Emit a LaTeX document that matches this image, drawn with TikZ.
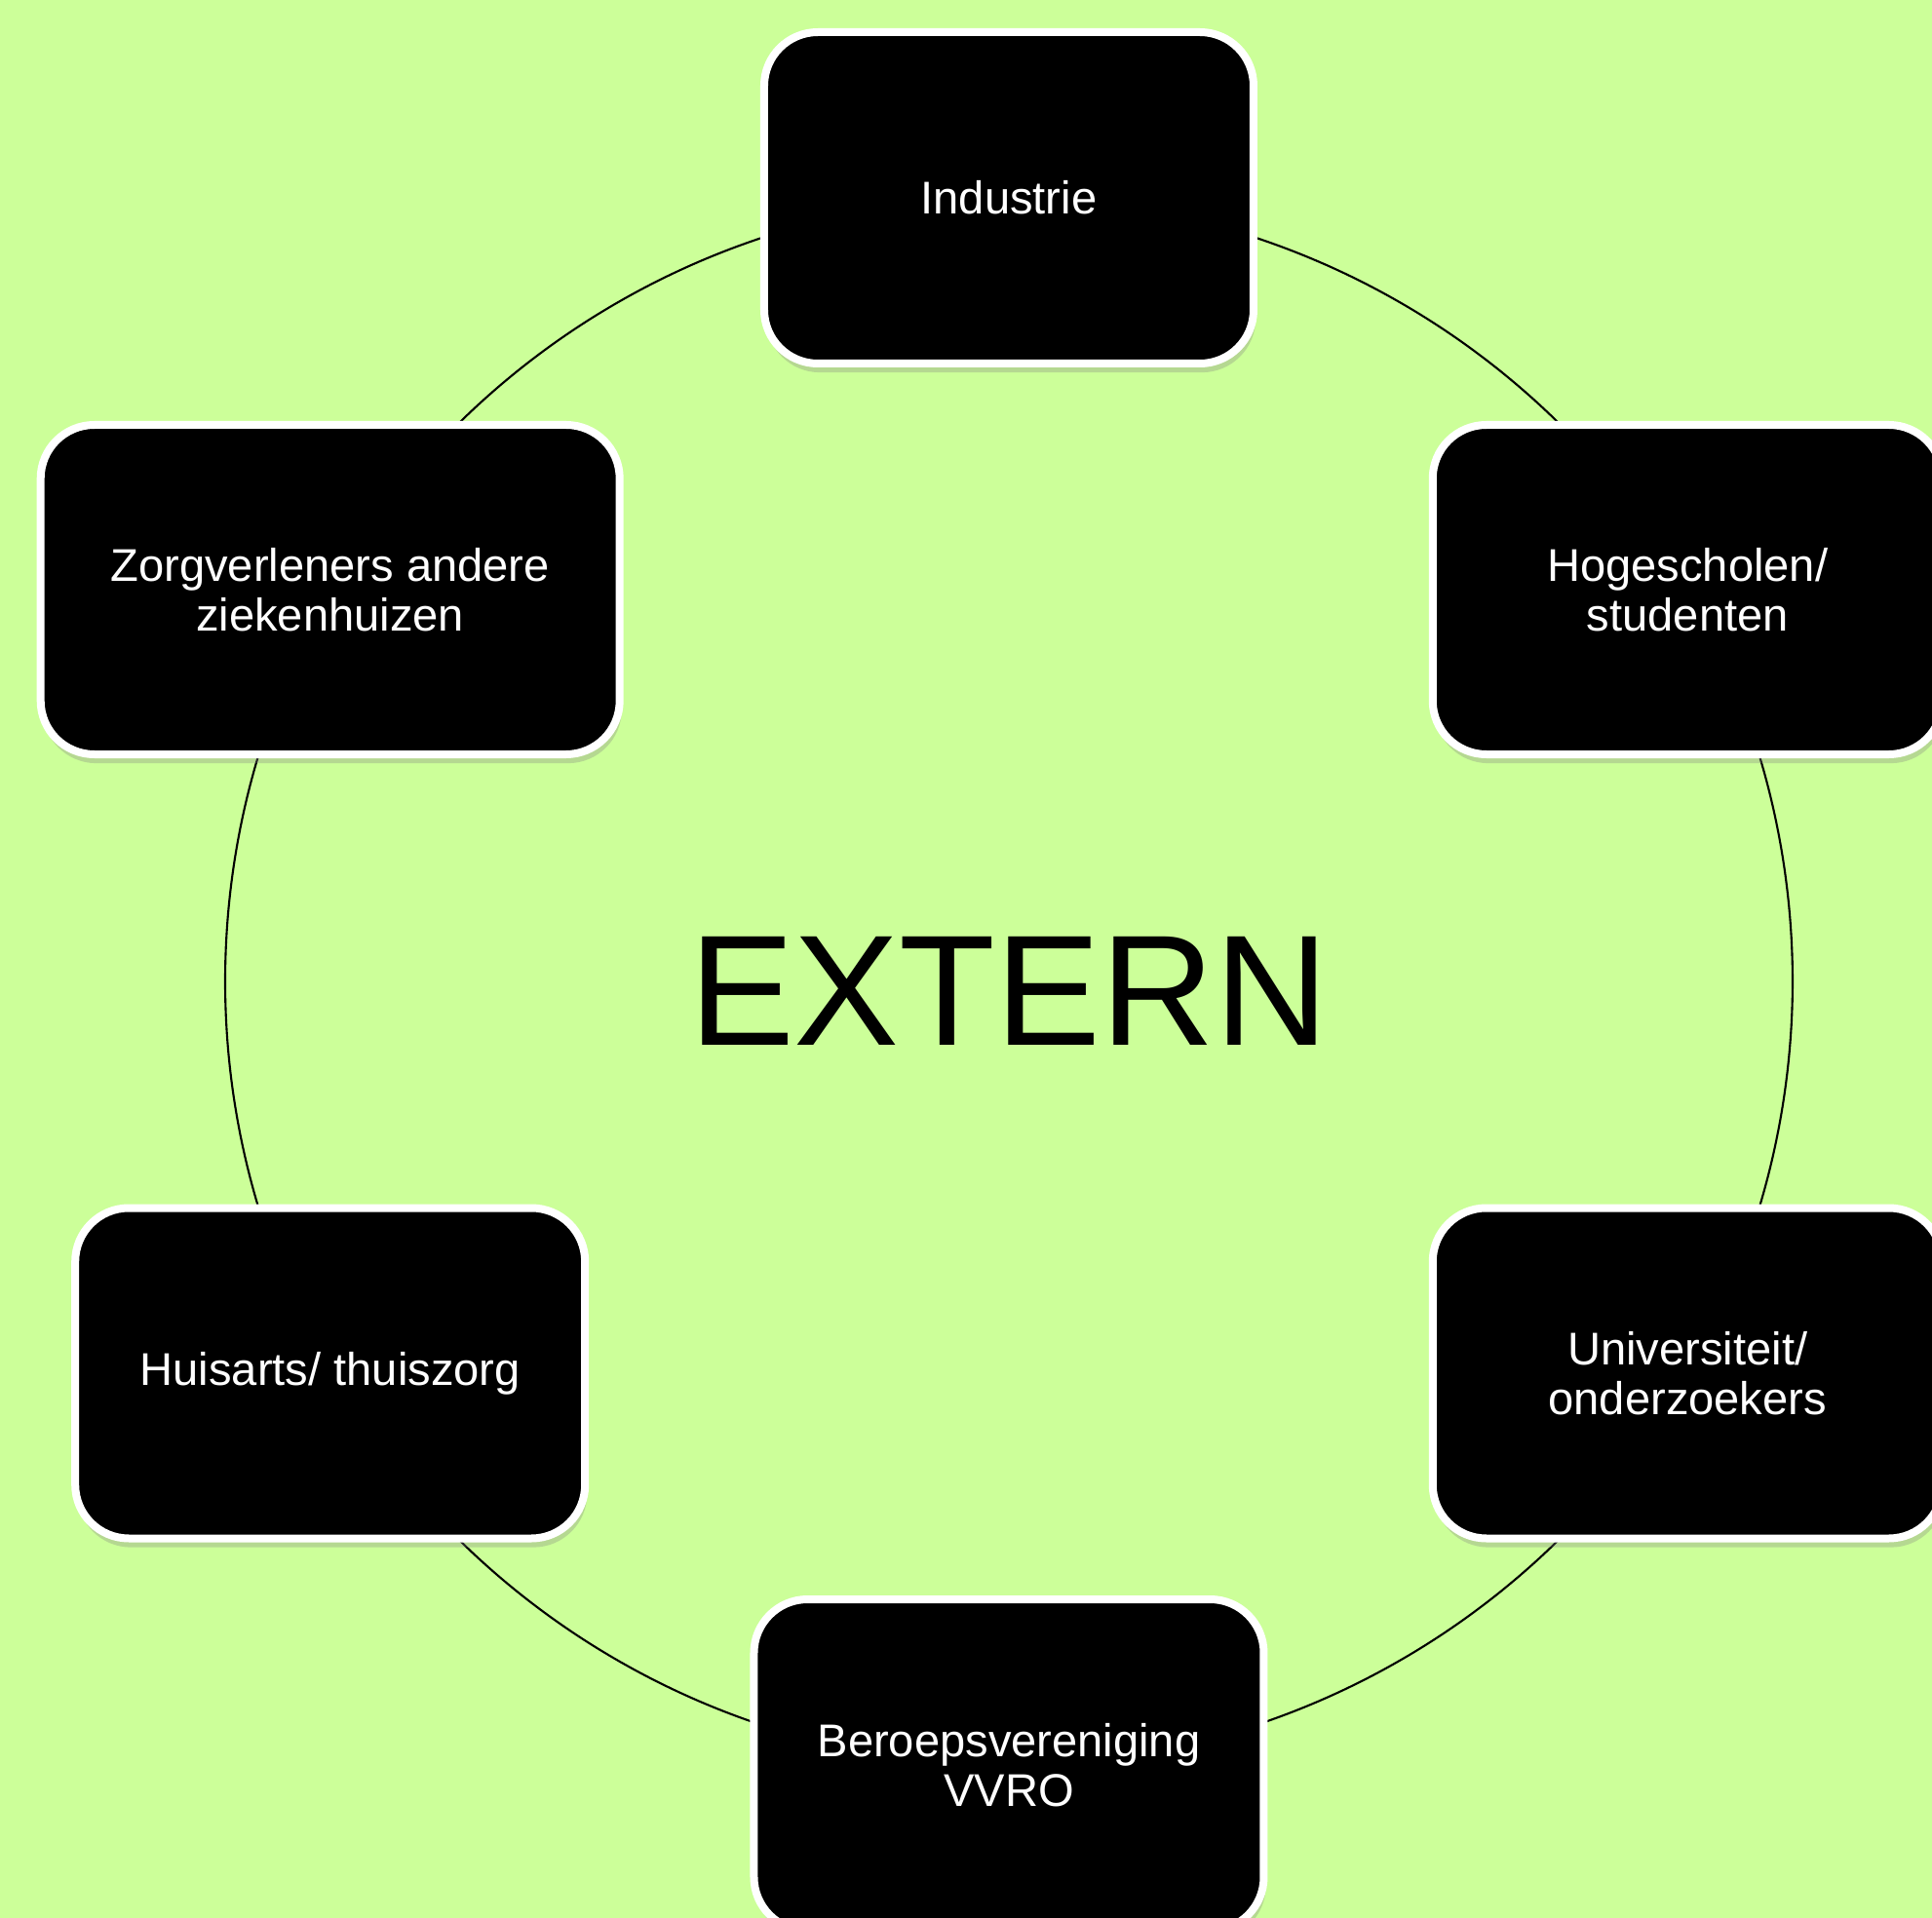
\documentclass[tikz,border=0pt]{standalone}
\usepackage{fontspec}
\setmainfont{Liberation Sans}
\usetikzlibrary{backgrounds,shadows}
\definecolor{bggreen}{RGB}{204,255,153}
\tikzset{
  partner/.style={rectangle,rounded corners=0.55cm,fill=black,draw=white,line width=0.08cm,
    text=white,align=center,font=\fontsize{13.4}{14.4}\selectfont,
    drop shadow={shadow xshift=0.6pt,shadow yshift=-2.6pt,opacity=0.3}},
  ring/.style={draw=black,line width=0.6pt}
}
\begin{document}
\begin{tikzpicture}
\useasboundingbox (-10.35,-9.61) rectangle (9.47,10.07);
\clip (-10.35,-9.61) rectangle (9.47,10.07);

% Partners around the ring
\node[partner,minimum width=5.02cm,minimum height=3.40cm] (ind) at (90:8.04) {Industrie};
\node[partner,minimum width=5.23cm,minimum height=3.38cm] (hog) at (30:8.04) {Hogescholen/\\studenten};
\node[partner,minimum width=5.23cm,minimum height=3.39cm] (univ) at (-30:8.04) {Universiteit/\\onderzoekers};
\node[partner,minimum width=5.23cm,minimum height=3.40cm] (ber) at (-90:8.04) {Beroepsvereniging\\VVRO};
\node[partner,minimum width=5.23cm,minimum height=3.39cm] (huis) at (210:8.04) {Huisarts/ thuiszorg};
\node[partner,minimum width=5.94cm,minimum height=3.38cm] (zorg) at (150:8.04) {Zorgverleners andere\\ziekenhuizen};

% Centre label
\node[font=\fontsize{46}{46}\selectfont] (ext) at (0,-0.1) {EXTERN};

% Ring between the partners
\begin{scope}[on background layer]
\fill[bggreen] (-10.35,-9.61) rectangle (9.47,10.07);
\draw[ring] (ind.center) arc[start angle=90,end angle=30,radius=8.04];
\draw[ring] (hog.center) arc[start angle=30,end angle=-30,radius=8.04];
\draw[ring] (univ.center) arc[start angle=-30,end angle=-90,radius=8.04];
\draw[ring] (ber.center) arc[start angle=-90,end angle=-150,radius=8.04];
\draw[ring] (huis.center) arc[start angle=210,end angle=150,radius=8.04];
\draw[ring] (zorg.center) arc[start angle=150,end angle=90,radius=8.04];
\end{scope}
\end{tikzpicture}
\end{document}
